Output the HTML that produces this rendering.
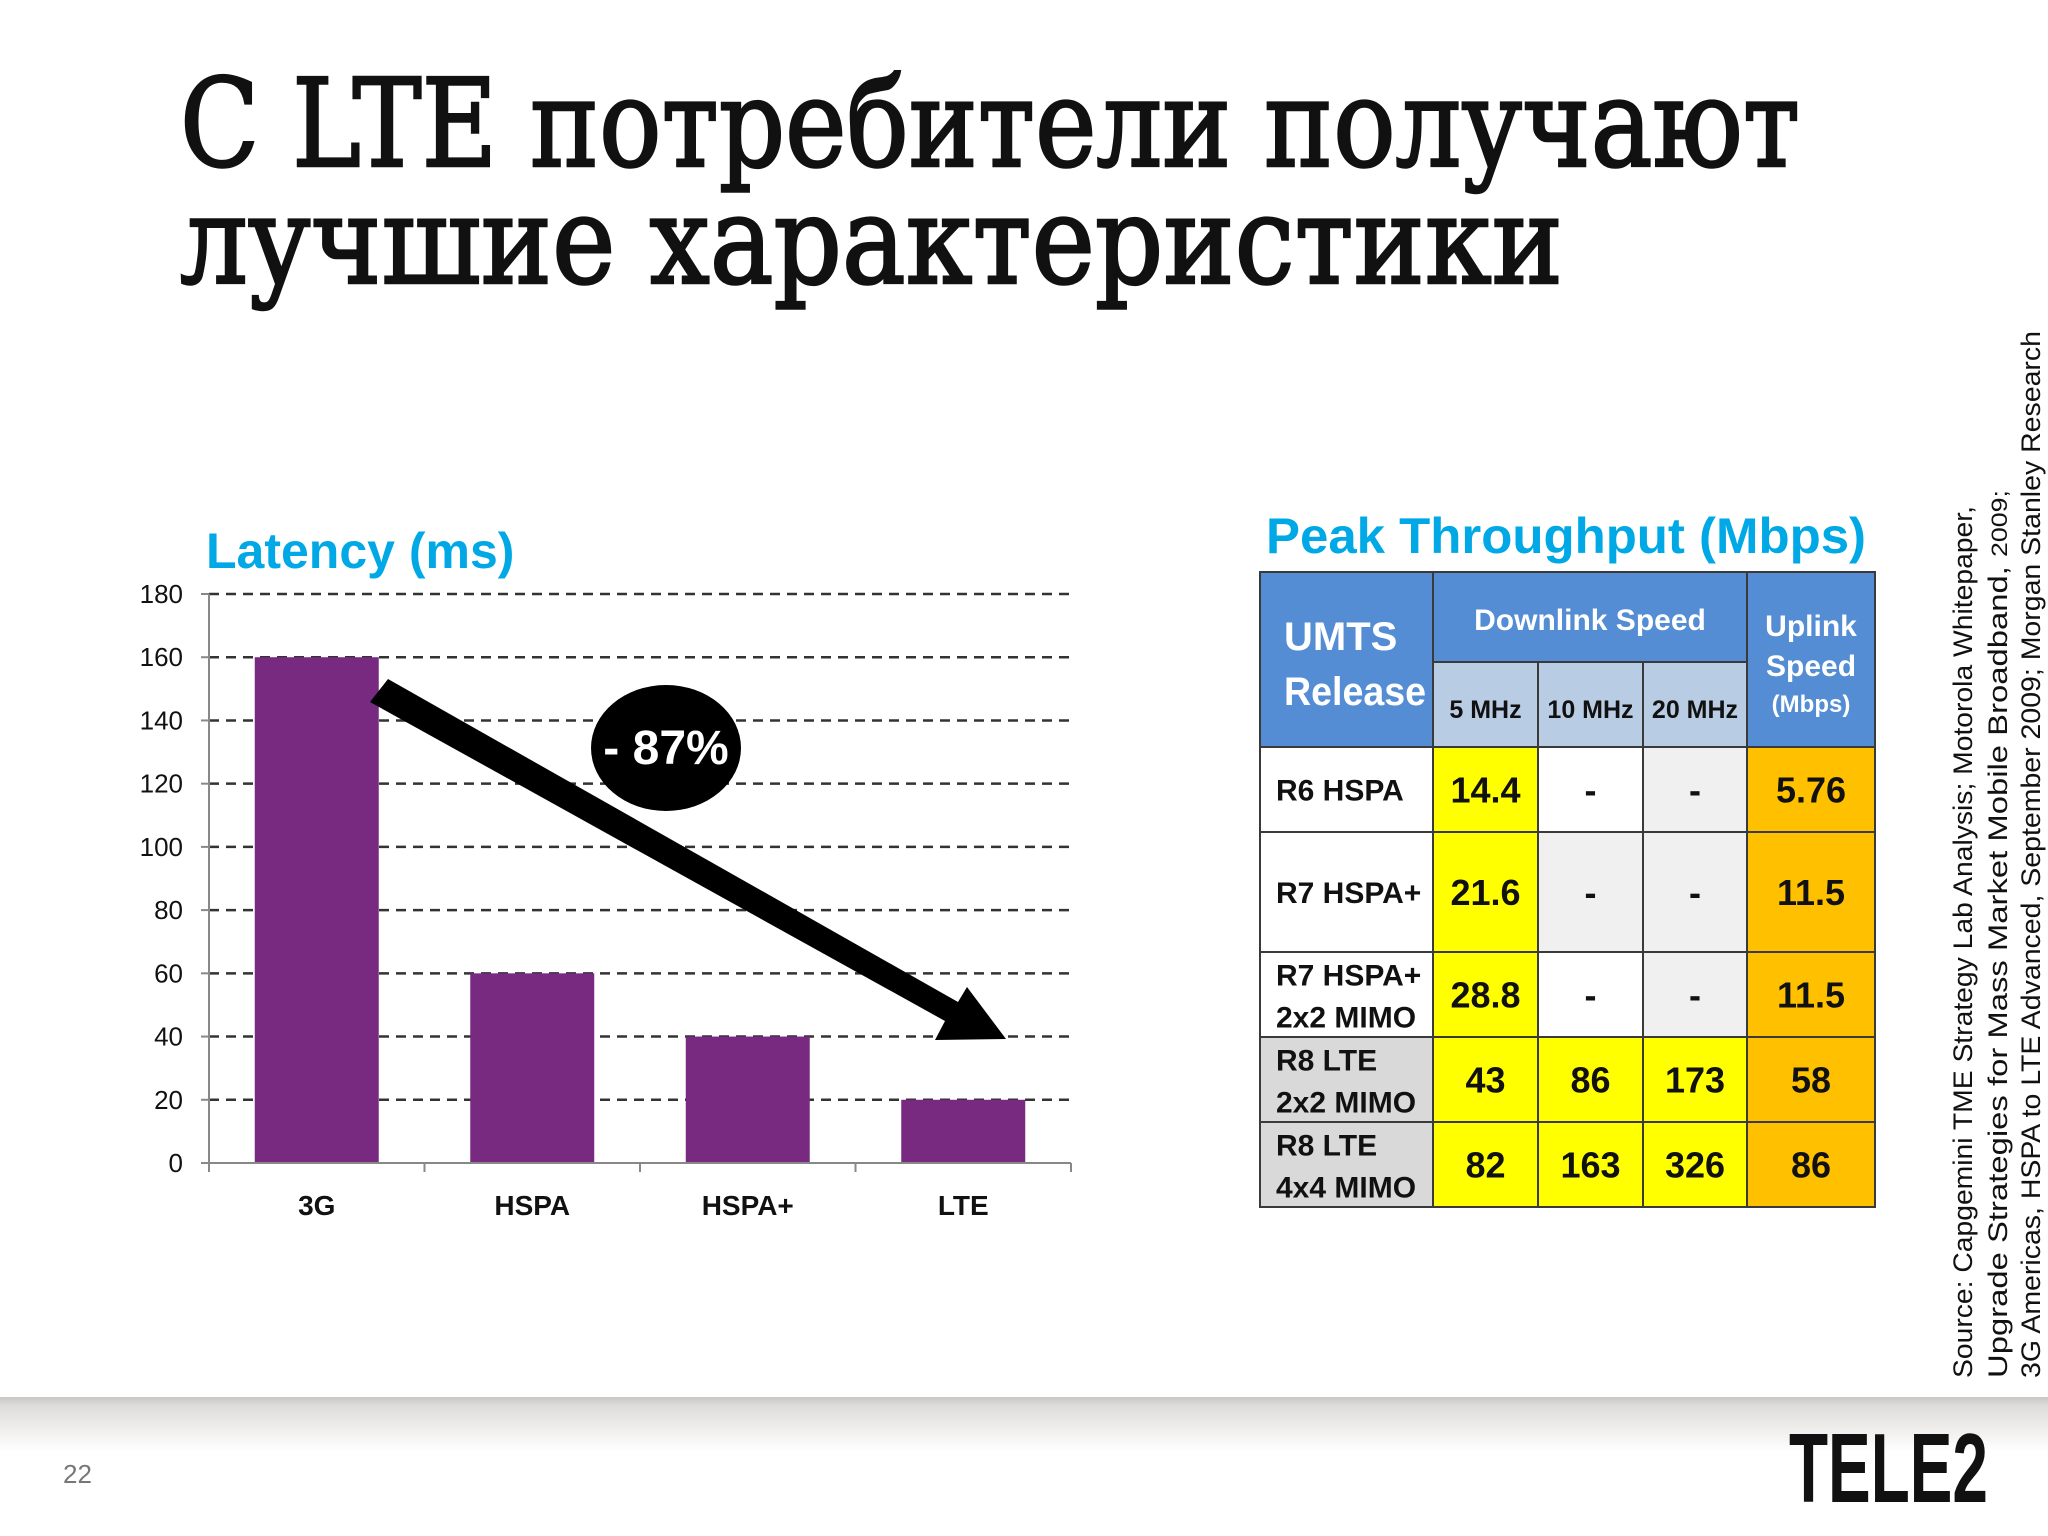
<!DOCTYPE html>
<html><head><meta charset="utf-8"><style>
html,body{margin:0;padding:0;background:#fff;width:2048px;height:1536px;overflow:hidden}
svg{display:block}
</style></head><body>
<svg id="s" width="2048" height="1536" viewBox="0 0 2048 1536" xmlns="http://www.w3.org/2000/svg" font-family="Liberation Sans, sans-serif">
<defs>
<linearGradient id="fg" x1="0" y1="0" x2="0" y2="1">
<stop offset="0" stop-color="#c9c7c5"/><stop offset="0.15" stop-color="#dedcda"/><stop offset="1" stop-color="#ffffff"/>
</linearGradient>
</defs>
<rect x="0" y="0" width="2048" height="1536" fill="#ffffff"/>
<rect x="0" y="1397" width="2048" height="55" fill="url(#fg)"/>
<text x="180" y="166" font-family="DejaVu Serif, Liberation Serif, serif" font-size="122" textLength="1620" lengthAdjust="spacingAndGlyphs" fill="#111" stroke="#111" stroke-width="2.5">С LTE потребители получают</text>
<text x="180" y="283" font-family="DejaVu Serif, Liberation Serif, serif" font-size="122" textLength="1383" lengthAdjust="spacingAndGlyphs" fill="#111" stroke="#111" stroke-width="2.5">лучшие характеристики</text>

<text x="206" y="568" font-size="50" font-weight="bold" fill="#00A9E6">Latency (ms)</text>
<g id="chart"></g>

<text x="1266" y="553" font-size="50" font-weight="bold" fill="#00A9E6" textLength="600" lengthAdjust="spacingAndGlyphs">Peak Throughput (Mbps)</text>
<g id="table"></g>

<g transform="translate(1972,1378) rotate(-90)" font-size="27" fill="#111">
<text x="0" y="0" textLength="872" lengthAdjust="spacingAndGlyphs">Source: Capgemini TME Strategy Lab Analysis; Motorola Whitepaper,</text>
<text x="0" y="35" textLength="888" lengthAdjust="spacingAndGlyphs">Upgrade Strategies for Mass Market Mobile Broadband, <tspan font-size="22">2009;</tspan></text>
<text x="0" y="68" textLength="1047" lengthAdjust="spacingAndGlyphs">3G Americas, HSPA to LTE Advanced, September 2009; Morgan Stanley Research</text>
</g>

<text x="63" y="1483" font-size="26" fill="#777">22</text>
<text x="1789" y="1502" font-size="98" font-weight="bold" textLength="199" lengthAdjust="spacingAndGlyphs" fill="#111">TELE2</text>
</svg>
<script>
const categories = ["3G","HSPA","HSPA+","LTE"];
const latency = [160,60,40,20];
const yTicks = [0,20,40,60,80,100,120,140,160,180];

const NS="http://www.w3.org/2000/svg";
function mk(tag, attrs, parent, txt){const e=document.createElementNS(NS,tag);for(const k in attrs)e.setAttribute(k,attrs[k]);if(txt!==undefined)e.textContent=txt;parent.appendChild(e);return e;}
const g=document.getElementById('chart');
const X0=209,X1=1071,Y0=1163,Y1=594,YMAX=180;
const yScale=v=>Y0-(v/YMAX)*(Y0-Y1);
const band=(X1-X0)/categories.length;
const xCenter=i=>X0+band*(i+0.5);
yTicks.forEach(t=>{
  const y=yScale(t);
  if(t>0){const l=mk('line',{x1:X0,x2:X1,y1:y,y2:y,stroke:'#333','stroke-width':2.5,'stroke-dasharray':'10 7'},g);
  
  }
  const tk=mk('line',{x1:X0-8,x2:X0,y1:y,y2:y,stroke:'#888','stroke-width':2},g);
  
  
  const tl=mk('text',{x:183,y:y+9,'font-size':26,'text-anchor':'end',fill:'#111'},g,String(t));
  
  
});
categories.forEach((c,i)=>{
  const w=124, y=yScale(latency[i]);
  const b=mk('rect',{x:xCenter(i)-w/2,y:y,width:w,height:Y0-y,fill:'#772A80'},g);
  
  
  const l=mk('text',{x:xCenter(i),y:1215,'font-size':28,'font-weight':'bold','text-anchor':'middle',fill:'#111'},g,c);
  
  
});
const ya=mk('line',{x1:X0,x2:X0,y1:Y1,y2:Y0,stroke:'#888','stroke-width':2},g);


const xa=mk('line',{x1:X0,x2:X1,y1:Y0,y2:Y0,stroke:'#888','stroke-width':2},g);


for(let i=0;i<=categories.length;i++){const t=mk('line',{x1:X0+band*i,x2:X0+band*i,y1:Y0,y2:Y0+9,stroke:'#888','stroke-width':2},g);

}
const ar=mk('polygon',{points:'388,679 370,702 945,1021 935,1040 1006,1039 967,987 958,1002',fill:'#000'},g);


const el=mk('ellipse',{cx:666,cy:748,rx:75,ry:63,fill:'#000'},g);


const et=mk('text',{x:666,y:764,'font-size':48,'font-weight':'bold','text-anchor':'middle',fill:'#fff'},g,'- 87%');



const rowLabels=[["R6 HSPA"],["R7 HSPA+"],["R7 HSPA+","2x2 MIMO"],["R8 LTE","2x2 MIMO"],["R8 LTE","4x4 MIMO"]];
const dl5=["14.4","21.6","28.8","43","82"];
const dl10=["-","-","-","86","163"];
const dl20=["-","-","-","173","326"];
const ul=["5.76","11.5","11.5","58","86"];
const T=document.getElementById('table');
const cols=[1260,1433,1538,1643,1747,1875];
const rows=[747,832,952,1037,1122,1207];
const fills=[
 ['#fff','#FFFF00','#fff','#F0F0F0','#FFC000'],
 ['#fff','#FFFF00','#F0F0F0','#F0F0F0','#FFC000'],
 ['#fff','#FFFF00','#fff','#F0F0F0','#FFC000'],
 ['#D9D9D9','#FFFF00','#FFFF00','#FFFF00','#FFC000'],
 ['#D9D9D9','#FFFF00','#FFFF00','#FFFF00','#FFC000']];
function cell(x,y,w,h,fill,name){const r=mk('rect',{x:x,y:y,width:w,height:h,fill:fill,stroke:'#3a3a3a','stroke-width':2},T);

return r;}
function txt(x,y,s,size,fill,anchor,name){const t=mk('text',{x:x,y:y,'font-size':size,'font-weight':'bold','text-anchor':anchor,fill:fill},T,s);

return t;}
cell(1260,572,173,175,'#548DD4','header-umts-release');
cell(1433,572,314,90,'#548DD4','header-downlink-speed');
cell(1747,572,128,175,'#548DD4','header-uplink-speed');
['5 MHz','10 MHz','20 MHz'].forEach((s,i)=>{cell(cols[i+1],662,cols[i+2]-cols[i+1],85,'#B8CCE4','header-'+s.replace(' ','-').toLowerCase());
txt((cols[i+1]+cols[i+2])/2,718,s,25,'#111','middle','header-label-'+s.replace(' ','-').toLowerCase());});
txt(1284,650,'UMTS',40,'#fff','start','header-label-umts');
const rel=txt(1284,705,'Release',40,'#fff','start','header-label-release');
rel.setAttribute('textLength','142');
rel.setAttribute('lengthAdjust','spacingAndGlyphs');
txt(1590,630,'Downlink Speed',30,'#fff','middle','header-label-downlink');
txt(1811,636,'Uplink',30,'#fff','middle','header-label-uplink');
txt(1811,676,'Speed',30,'#fff','middle','header-label-speed');
txt(1811,712,'(Mbps)',24,'#fff','middle','header-label-mbps');
const vals=[dl5,dl10,dl20,ul];
rowLabels.forEach((lab,r)=>{
  const y=rows[r],h=rows[r+1]-rows[r],cy=y+h/2;
  cell(cols[0],y,cols[1]-cols[0],h,fills[r][0],'row-label-cell-'+r);
  if(lab.length===1) txt(1276,cy+11,lab[0],30,'#111','start','row-label-'+r);
  else {txt(1276,cy-9,lab[0],30,'#111','start','row-label-'+r+'-a');txt(1276,cy+33,lab[1],30,'#111','start','row-label-'+r+'-b');}
  vals.forEach((arr,c)=>{
    cell(cols[c+1],y,cols[c+2]-cols[c+1],h,fills[r][c+1],'value-cell-'+r+'-'+c);
    txt((cols[c+1]+cols[c+2])/2,cy+13,arr[r],36,'#111','middle','value-'+r+'-'+c);
  });
});
</script>
</body></html>
